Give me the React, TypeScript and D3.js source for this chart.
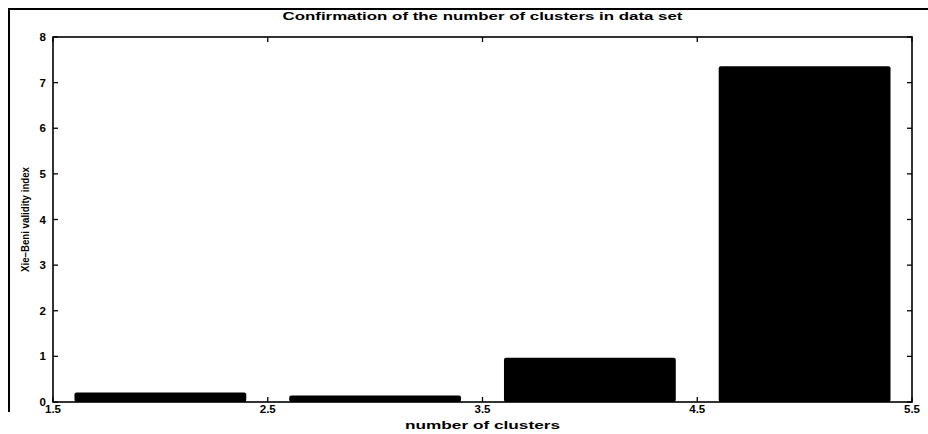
import React from "react";
import * as d3 from "d3";

// Xie–Beni validity index per number of clusters
const clusterCounts = [2, 3, 4, 5];
const xbIndex = [0.21, 0.14, 0.97, 7.36];
const xTicks = [1.5, 2.5, 3.5, 4.5, 5.5];
const yTicks = [0, 1, 2, 3, 4, 5, 6, 7, 8];

const W = 928;
const H = 434;
const M = { left: 53, right: 16, top: 37, bottom: 32 };

export default function App() {
  const x = d3.scaleLinear().domain([1.5, 5.5]).range([M.left, W - M.right]);
  const y = d3.scaleLinear().domain([0, 8]).range([H - M.bottom, M.top]);
  const barW = 0.8;
  const tick = 5;
  const font = "'Liberation Sans', Arial, sans-serif";

  return (
    <svg
      width={W}
      height={H}
      style={{ position: "absolute", left: 0, top: 0, background: "#fff" }}
      fontFamily={font}
    >
      {/* outer figure frame */}
      <path d={`M9,${H - 22} V9 H${W}`} fill="none" stroke="#000" strokeWidth={2} />

      <text
        x={(M.left + W - M.right) / 2}
        y={20}
        textAnchor="middle"
        fontSize={11}
        fontWeight="bold"
        textLength={400}
        lengthAdjust="spacingAndGlyphs"
      >
        Confirmation of the number of clusters in data set
      </text>

      {/* bars */}
      {clusterCounts.map((c, i) => (
        <rect
          key={c}
          x={x(c - barW / 2)}
          y={y(xbIndex[i])}
          width={x(c + barW / 2) - x(c - barW / 2)}
          height={y(0) - y(xbIndex[i])}
          fill="#000"
          rx={2}
        />
      ))}

      {/* axes box */}
      <rect
        x={M.left}
        y={M.top}
        width={W - M.right - M.left}
        height={H - M.bottom - M.top}
        fill="none"
        stroke="#000"
        strokeWidth={1.6}
      />

      {/* y ticks */}
      {yTicks.map((t) => (
        <g key={`y${t}`}>
          <line x1={M.left} x2={M.left + tick} y1={y(t)} y2={y(t)} stroke="#000" strokeWidth={1.3} />
          <line
            x1={W - M.right}
            x2={W - M.right - tick}
            y1={y(t)}
            y2={y(t)}
            stroke="#000"
            strokeWidth={1.3}
          />
          <text
            x={M.left - 7}
            y={y(t)}
            dy="0.35em"
            textAnchor="end"
            fontSize={11.5}
            fontWeight="bold"
          >
            {t}
          </text>
        </g>
      ))}

      {/* x ticks */}
      {xTicks.map((t) => (
        <g key={`x${t}`}>
          <line
            x1={x(t)}
            x2={x(t)}
            y1={H - M.bottom}
            y2={H - M.bottom - tick}
            stroke="#000"
            strokeWidth={1.3}
          />
          <line x1={x(t)} x2={x(t)} y1={M.top} y2={M.top + tick} stroke="#000" strokeWidth={1.3} />
          <text
            x={x(t)}
            y={H - M.bottom + 11}
            textAnchor="middle"
            fontSize={11.5}
            fontWeight="bold"
          >
            {t.toFixed(1)}
          </text>
        </g>
      ))}

      <text
        x={(M.left + W - M.right) / 2}
        y={H - 5}
        textAnchor="middle"
        fontSize={10.5}
        fontWeight="bold"
        textLength={155}
        lengthAdjust="spacingAndGlyphs"
      >
        number of clusters
      </text>

      <text
        transform={`translate(29,${(M.top + H - M.bottom) / 2}) rotate(-90)`}
        textAnchor="middle"
        fontSize={11}
        fontWeight="bold"
        textLength={105}
        lengthAdjust="spacingAndGlyphs"
      >
        Xie–Beni validity index
      </text>
    </svg>
  );
}
